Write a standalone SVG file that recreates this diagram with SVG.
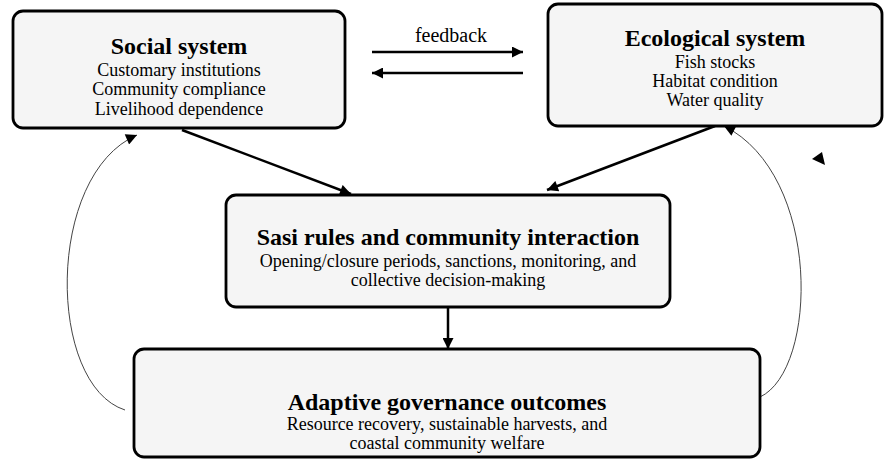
<svg xmlns="http://www.w3.org/2000/svg" width="888" height="464" viewBox="0 0 888 464">
<defs>
<style>
.box{fill:#f5f5f5;stroke:#000;stroke-width:2.8}
.t{font-family:"Liberation Serif","Times New Roman",serif;font-size:24px;font-weight:bold;text-anchor:middle;fill:#000}
.b{font-family:"Liberation Serif","Times New Roman",serif;font-size:18px;text-anchor:middle;fill:#000}
.thick{fill:none;stroke:#000;stroke-width:2.5}
.thin{fill:none;stroke:#444;stroke-width:1}
</style>
<marker id="ah" viewBox="0 0 10 10" refX="10" refY="5" markerWidth="5" markerHeight="4.4" orient="auto" markerUnits="strokeWidth">
<path d="M0,0 L10,5 L0,10 z" fill="#000"/>
</marker>
<marker id="ah2" viewBox="0 0 10 10" refX="10" refY="5" markerWidth="13" markerHeight="11" orient="auto" markerUnits="userSpaceOnUse">
<path d="M0,0 L10,5 L0,10 z" fill="#000"/>
</marker>
</defs>
<rect width="888" height="464" fill="#fff"/>
<g id="connectors">
<line class="thick" x1="372" y1="52" x2="523" y2="52" marker-end="url(#ah)"/>
<line class="thick" x1="523" y1="73" x2="372" y2="73" marker-end="url(#ah)"/>
<line class="thick" x1="182" y1="130" x2="351" y2="194" marker-end="url(#ah)"/>
<line class="thick" x1="715" y1="126" x2="547" y2="190" marker-end="url(#ah)"/>
<line class="thick" x1="448" y1="308" x2="448" y2="349" marker-end="url(#ah)"/>
<path class="thin" d="M125,410 C47,385 45,175 137,135" marker-end="url(#ah2)"/>
<path class="thin" d="M760,397 C818,370 822,175 724,126" marker-end="url(#ah2)"/>
<polygon points="812,159 822,152 825,165" fill="#000"/>
</g>
<text class="b" x="451" y="42" style="font-size:20px">feedback</text>
<g id="social">
<rect class="box" x="13" y="11" width="332" height="117" rx="10"/>
<text class="t" x="179" y="54">Social system</text>
<text class="b" x="179" y="76">Customary institutions</text>
<text class="b" x="179" y="95">Community compliance</text>
<text class="b" x="179" y="115">Livelihood dependence</text>
</g>
<g id="ecological">
<rect class="box" x="548" y="4" width="334" height="122" rx="10"/>
<text class="t" x="715" y="46">Ecological system</text>
<text class="b" x="715" y="68">Fish stocks</text>
<text class="b" x="715" y="87">Habitat condition</text>
<text class="b" x="715" y="106">Water quality</text>
</g>
<g id="sasi">
<rect class="box" x="226" y="195" width="444" height="112" rx="10"/>
<text class="t" x="448" y="245">Sasi rules and community interaction</text>
<text class="b" x="448" y="267">Opening/closure periods, sanctions, monitoring, and</text>
<text class="b" x="448" y="286">collective decision-making</text>
</g>
<g id="adaptive">
<rect class="box" x="134" y="349" width="626" height="108" rx="10"/>
<text class="t" x="447" y="410">Adaptive governance outcomes</text>
<text class="b" x="447" y="430">Resource recovery, sustainable harvests, and</text>
<text class="b" x="447" y="449">coastal community welfare</text>
</g>
</svg>
